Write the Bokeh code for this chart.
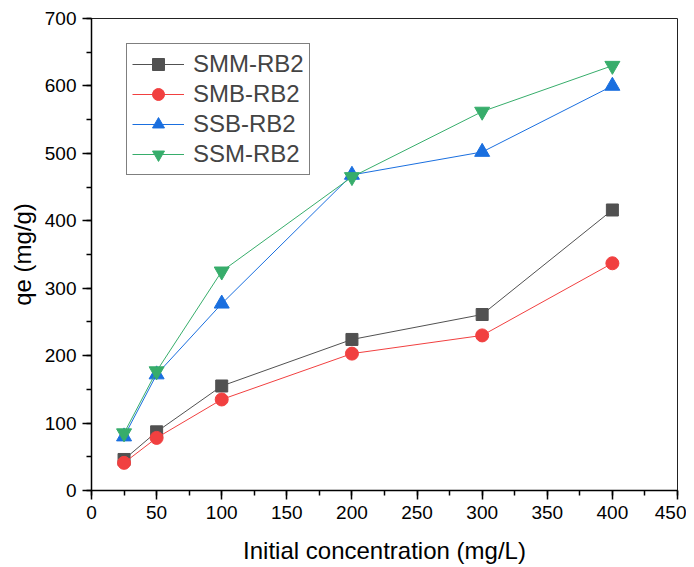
from bokeh.plotting import figure
from bokeh.models import Range1d, SingleIntervalTicker, Legend, LegendItem
from bokeh.embed import file_html
from bokeh.resources import INLINE

conc = [25, 50, 100, 200, 300, 400]
smm = [46, 87, 155, 224, 261, 416]
smb = [41, 78, 135, 203, 230, 337]
ssb = [80, 172, 277, 468, 502, 600]
ssm = [85, 177, 325, 465, 562, 630]

names = ["SMM-RB2", "SMB-RB2", "SSB-RB2", "SSM-RB2"]
colors = ["#515151", "#F14040", "#1A6FDF", "#37AD6B"]

FONT = "Liberation Sans"

p = figure(width=686, height=567, output_backend="svg", toolbar_location=None,
           x_range=Range1d(0, 450), y_range=Range1d(0, 700),
           min_border_left=91, min_border_right=9, min_border_top=18, min_border_bottom=77)
p.xgrid.visible = False
p.ygrid.visible = False
p.outline_line_color = "#222222"
p.outline_line_width = 1

for ax in (p.xaxis[0], p.yaxis[0]):
    ax.axis_line_color = "black"
    ax.axis_line_width = 1.5
    ax.major_tick_line_color = "black"
    ax.major_tick_line_width = 1.5
    ax.minor_tick_line_color = "black"
    ax.minor_tick_line_width = 1.5
    ax.major_tick_out = 9
    ax.major_tick_in = 0
    ax.minor_tick_out = 5
    ax.minor_tick_in = 0
    ax.major_label_text_font = FONT
    ax.major_label_text_font_size = "19px"
    ax.major_label_text_color = "black"
    ax.axis_label_text_font = FONT
    ax.axis_label_text_font_size = "24px"
    ax.axis_label_text_font_style = "normal"
    ax.axis_label_text_color = "black"

p.xaxis.ticker = SingleIntervalTicker(interval=50, num_minor_ticks=2)
p.yaxis.ticker = SingleIntervalTicker(interval=100, num_minor_ticks=2)
p.xaxis.axis_label = "Initial concentration (mg/L)"
p.yaxis.axis_label = "qe (mg/g)"
p.xaxis.major_label_standoff = 6
p.yaxis.major_label_standoff = 6
p.xaxis.axis_label_standoff = 15
p.yaxis.axis_label_standoff = 6

items = []
series = [smm, smb, ssb, ssm]
markers = ["square", "circle", "triangle", "inverted_triangle"]
sizes = [12, 13, 15, 15]
for name, ys, col, mk, sz in zip(names, series, colors, markers, sizes):
    ln = p.line(conc, ys, line_color=col, line_width=1)
    sc = p.scatter(conc, ys, marker=mk, size=sz, fill_color=col, line_color=col)
    items.append(LegendItem(label=name, renderers=[ln, sc]))

legend = Legend(items=items, location=(35, 315), margin=0, padding=5, spacing=0,
                glyph_width=52, glyph_height=30, label_height=30,
                label_text_font=FONT, label_text_font_size="24px",
                label_standoff=9,
                border_line_color="black", border_line_width=1,
                background_fill_alpha=1)
p.add_layout(legend, "center")

open("out.html", "w").write(file_html(p, INLINE))
